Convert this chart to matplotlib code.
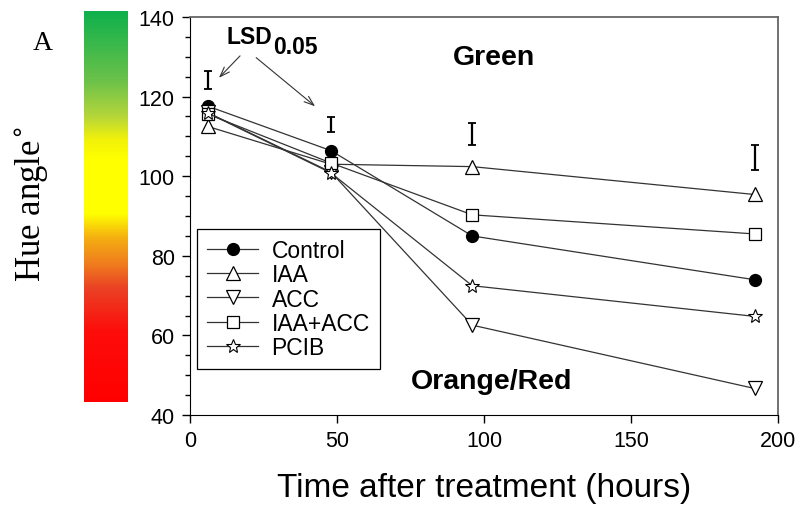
import numpy as np
import matplotlib.pyplot as plt
from matplotlib.colors import LinearSegmentedColormap
from matplotlib.ticker import MultipleLocator

plt.rcParams['font.family'] = ['Liberation Sans', 'DejaVu Sans']

# data
hours = [6, 48, 96, 192]
control = [117.6, 106.4, 85.0, 74.0]
iaa = [112.5, 103.0, 102.4, 95.4]
acc = [116.0, 101.0, 62.6, 46.7]
iaa_acc = [115.6, 103.3, 90.3, 85.5]
pcib = [115.9, 100.8, 72.5, 64.8]
lsd_center = [124.2, 112.9, 110.6, 104.8]
lsd_length = [4.6, 3.8, 5.6, 6.3]

fig = plt.figure(figsize=(7.98, 5.10), dpi=100)
ax = fig.add_axes([0.238, 0.184, 0.737, 0.781])

lc = '#333333'
ax.plot(hours, control, color=lc, lw=0.9, marker='o', ms=8.5, mfc='black', mec='black', label='Control', zorder=3)
ax.plot(hours, iaa, color=lc, lw=0.9, marker='^', ms=9.5, mfc='white', mec='black', mew=0.9, label='IAA', zorder=3)
ax.plot(hours, acc, color=lc, lw=0.9, marker='v', ms=9.5, mfc='white', mec='black', mew=0.9, label='ACC', zorder=3)
ax.plot(hours, iaa_acc, color=lc, lw=0.9, marker='s', ms=8.5, mfc='white', mec='black', mew=0.9, label='IAA+ACC', zorder=3)
ax.plot(hours, pcib, color=lc, lw=0.9, marker='*', ms=10, mfc='white', mec='black', mew=0.8, label='PCIB', zorder=3)

# LSD bars
ax.errorbar(hours, lsd_center, yerr=np.array(lsd_length) / 2, fmt='none', ecolor='black',
            elinewidth=1.6, capsize=3, capthick=1.3)

ax.set_xlim(0, 200)
ax.set_ylim(40, 140)
ax.xaxis.set_major_locator(MultipleLocator(50))
ax.yaxis.set_major_locator(MultipleLocator(20))
ax.yaxis.set_minor_locator(MultipleLocator(5))
ax.tick_params(axis='both', which='major', direction='out', length=6, width=1, labelsize=15.5, pad=5)
ax.tick_params(axis='y', which='minor', direction='out', length=3.5, width=1)
ax.tick_params(top=False, right=False)
for s in ['top', 'right']:
    ax.spines[s].set_color('#666666')
    ax.spines[s].set_linewidth(1.3)

ax.set_xlabel('Time after treatment (hours)', fontsize=24, labelpad=15)

ax.text(103.5, 130.0, 'Green', fontsize=20.5, fontweight='bold', ha='center', va='center')
ax.text(102.5, 48.5, 'Orange/Red', fontsize=20.5, fontweight='bold', ha='center', va='center')

ax.text(12.3, 135.0, 'LSD', fontsize=16.5, fontweight='bold', ha='left', va='center')
ax.text(28.3, 132.6, '0.05', fontsize=16.5, fontweight='bold', ha='left', va='center')
ax.annotate('', xy=(9.2, 124.2), xytext=(17.7, 130.7),
            arrowprops=dict(arrowstyle='->,head_length=0.7,head_width=0.25', color='#333333', lw=0.8))
ax.annotate('', xy=(43.3, 117.1), xytext=(21.8, 130.2),
            arrowprops=dict(arrowstyle='->,head_length=0.7,head_width=0.25', color='#333333', lw=0.8))

leg = ax.legend(loc='lower left', bbox_to_anchor=(0.012, 0.1156), fontsize=16.5,
                frameon=True, fancybox=False, edgecolor='black', framealpha=1, borderaxespad=0,
                handlelength=2.2, handletextpad=0.6, labelspacing=0.05, borderpad=0.45)
leg.get_frame().set_linewidth(0.9)

# colour bar
cmap = LinearSegmentedColormap.from_list('hue', [
    (0.0, '#0db04d'), (0.18, '#6cc24a'), (0.27, '#b5d63a'), (0.33, '#f2f20a'),
    (0.38, '#ffff00'), (0.52, '#ffff00'), (0.58, '#f5b011'), (0.65, '#ef7b1e'),
    (0.71, '#ea4224'), (0.82, '#fd0d0b'), (1.0, '#ff0000')])
cax = fig.add_axes([0.105, 0.21, 0.054, 0.767])
cax.imshow(np.linspace(0, 1, 256).reshape(-1, 1), aspect='auto', cmap=cmap)
cax.axis('off')

fig.text(0.04, 0.6, 'Hue angle$^{\\circ}$', rotation=90, fontsize=25, family='Liberation Serif',
         ha='center', va='center')
fig.text(0.054, 0.915, 'A', fontsize=20, family='Liberation Serif', ha='center', va='center')

fig.savefig('out.png', dpi=100)
